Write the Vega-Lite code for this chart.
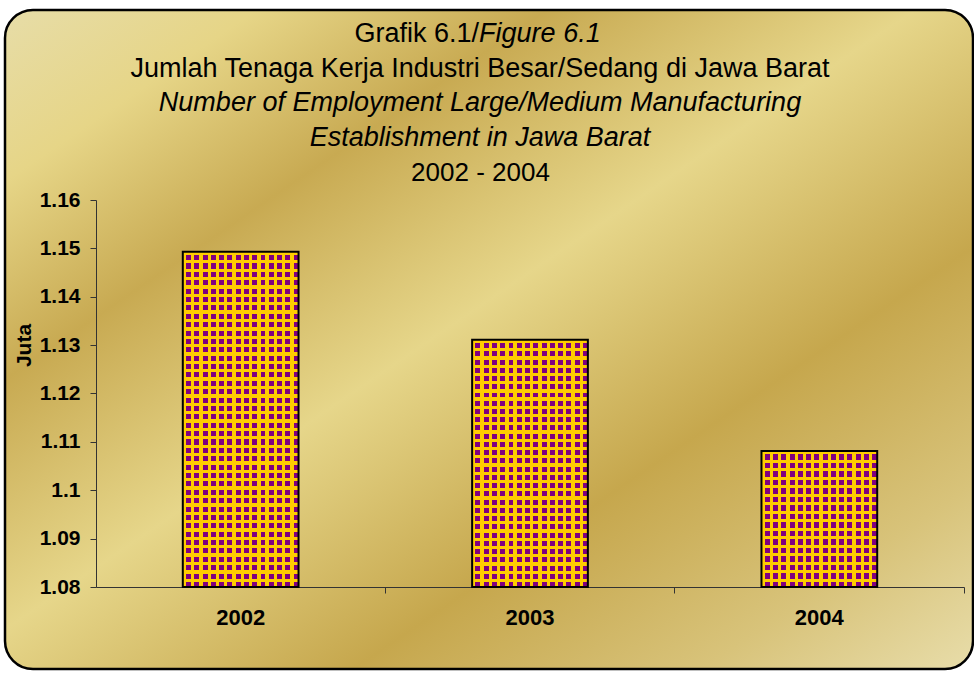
{
  "$schema": "https://vega.github.io/schema/vega-lite/v6.json",
  "width": 968,
  "height": 659,
  "autosize": "none",
  "padding": {"left": 5, "top": 10, "right": 1, "bottom": 4},
  "background": "white",
  "config": {
    "font": "Liberation Sans",
    "view": {
      "stroke": "black",
      "strokeWidth": 2.5,
      "cornerRadius": 28,
      "fill": {
        "gradient": "linear", "x1": 0, "y1": 0, "x2": 1, "y2": 1,
        "stops": [
          {"offset": 0, "color": "#E7DDA8"},
          {"offset": 0.13, "color": "#E6D587"},
          {"offset": 0.28, "color": "#C8AA52"},
          {"offset": 0.47, "color": "#E6D68A"},
          {"offset": 0.68, "color": "#C6A74D"},
          {"offset": 0.86, "color": "#D8C37A"},
          {"offset": 1, "color": "#E8DDAA"}
        ]
      }
    }
  },
  "title": {
    "text": "Jumlah Tenaga Kerja Industri Besar/Sedang di Jawa Barat",
    "subtitle": ["Number of Employment Large/Medium Manufacturing", "Establishment in Jawa Barat"],
    "anchor": "middle",
    "frame": "group",
    "dx": -9,
    "offset": -142,
    "font": "Liberation Sans",
    "fontSize": 27,
    "fontWeight": "normal",
    "color": "black",
    "lineHeight": 34.7,
    "subtitleFont": "Liberation Sans",
    "subtitleFontSize": 27,
    "subtitleFontStyle": "italic",
    "subtitleColor": "black",
    "subtitleLineHeight": 34.7,
    "subtitlePadding": 7.7
  },
  "data": {"values": [
    {"year": "2002", "value": 1.1493},
    {"year": "2003", "value": 1.1311},
    {"year": "2004", "value": 1.1081}
  ]},
  "encoding": {
    "x": {
      "field": "year", "type": "nominal",
      "scale": {"type": "band", "range": [91, 959], "paddingInner": 0.6, "paddingOuter": 0.3},
      "axis": {
        "orient": "bottom", "offset": -82,
        "title": "2002 - 2004", "titleX": 475, "titleY": -407, "titleAlign": "center", "titleBaseline": "alphabetic",
        "titleFontSize": 26, "titleFontWeight": "normal", "titleColor": "black",
        "labelAngle": 0, "labelFontSize": 22, "labelFontWeight": "bold", "labelColor": "black", "labelPadding": 14,
        "bandPosition": 1.75, "tickSize": 6, "tickColor": "#333", "domainColor": "#333", "domainWidth": 1, "grid": false
      }
    },
    "y2": {"datum": 1.08}
  },
  "layer": [
    {
      "mark": {
        "type": "bar",
        "color": {
          "gradient": "linear", "x1": 0, "y1": 0, "x2": 1, "y2": 0,
          "stops": [
            {"offset": 0, "color": "#FFCC00"}, {"offset": 0.0286, "color": "#FFCC00"}, {"offset": 0.0286, "color": "#800080"}, {"offset": 0.0714, "color": "#800080"},
            {"offset": 0.0714, "color": "#FFCC00"}, {"offset": 0.1, "color": "#FFCC00"}, {"offset": 0.1, "color": "#800080"}, {"offset": 0.1429, "color": "#800080"},
            {"offset": 0.1429, "color": "#FFCC00"}, {"offset": 0.1714, "color": "#FFCC00"}, {"offset": 0.1714, "color": "#800080"}, {"offset": 0.2143, "color": "#800080"},
            {"offset": 0.2143, "color": "#FFCC00"}, {"offset": 0.2429, "color": "#FFCC00"}, {"offset": 0.2429, "color": "#800080"}, {"offset": 0.2857, "color": "#800080"},
            {"offset": 0.2857, "color": "#FFCC00"}, {"offset": 0.3143, "color": "#FFCC00"}, {"offset": 0.3143, "color": "#800080"}, {"offset": 0.3571, "color": "#800080"},
            {"offset": 0.3571, "color": "#FFCC00"}, {"offset": 0.3857, "color": "#FFCC00"}, {"offset": 0.3857, "color": "#800080"}, {"offset": 0.4286, "color": "#800080"},
            {"offset": 0.4286, "color": "#FFCC00"}, {"offset": 0.4571, "color": "#FFCC00"}, {"offset": 0.4571, "color": "#800080"}, {"offset": 0.5, "color": "#800080"},
            {"offset": 0.5, "color": "#FFCC00"}, {"offset": 0.5286, "color": "#FFCC00"}, {"offset": 0.5286, "color": "#800080"}, {"offset": 0.5714, "color": "#800080"},
            {"offset": 0.5714, "color": "#FFCC00"}, {"offset": 0.6, "color": "#FFCC00"}, {"offset": 0.6, "color": "#800080"}, {"offset": 0.6429, "color": "#800080"},
            {"offset": 0.6429, "color": "#FFCC00"}, {"offset": 0.6714, "color": "#FFCC00"}, {"offset": 0.6714, "color": "#800080"}, {"offset": 0.7143, "color": "#800080"},
            {"offset": 0.7143, "color": "#FFCC00"}, {"offset": 0.7429, "color": "#FFCC00"}, {"offset": 0.7429, "color": "#800080"}, {"offset": 0.7857, "color": "#800080"},
            {"offset": 0.7857, "color": "#FFCC00"}, {"offset": 0.8143, "color": "#FFCC00"}, {"offset": 0.8143, "color": "#800080"}, {"offset": 0.8571, "color": "#800080"},
            {"offset": 0.8571, "color": "#FFCC00"}, {"offset": 0.8857, "color": "#FFCC00"}, {"offset": 0.8857, "color": "#800080"}, {"offset": 0.9286, "color": "#800080"},
            {"offset": 0.9286, "color": "#FFCC00"}, {"offset": 0.9571, "color": "#FFCC00"}, {"offset": 0.9571, "color": "#800080"}, {"offset": 1, "color": "#800080"}
          ]
        }
      },
      "encoding": {
        "y": {
          "field": "value", "type": "quantitative",
          "scale": {"domain": [1.08, 1.16], "range": [577, 190], "zero": false, "nice": false},
          "axis": {
            "orient": "left", "offset": -91,
            "values": [1.08, 1.09, 1.1, 1.11, 1.12, 1.13, 1.14, 1.15, 1.16], "format": "~g",
            "title": "Juta", "titleX": -72, "titleY": 335, "titleAngle": 270, "titleAlign": "center", "titleBaseline": "middle",
            "titleFontSize": 21, "titleFontWeight": "bold", "titleColor": "black",
            "labelFontSize": 21, "labelFontWeight": "bold", "labelColor": "black", "labelPadding": 10,
            "tickSize": 6, "tickColor": "#333", "domainColor": "#333", "domainWidth": 1, "grid": false
          }
        }
      }
    },
    {
      "mark": {"type": "bar", "stroke": "black", "strokeWidth": 2},
      "encoding": {
        "x": {
          "field": "year", "type": "nominal",
          "scale": {"type": "band", "range": [91, 959], "paddingInner": 0.6, "paddingOuter": 0.3},
          "axis": {
            "orient": "top", "labels": false, "ticks": false, "domain": false, "grid": false,
            "title": "Grafik 6.1/", "titleX": 473.6, "titleY": 31.6, "titleAlign": "right", "titleBaseline": "alphabetic", "titleAngle": 0,
            "titleFontSize": 27, "titleFontStyle": "normal", "titleFontWeight": "normal", "titleColor": "black"
          }
        },
        "y": {
          "field": "value", "type": "quantitative",
          "scale": {"domain": [1.08, 1.16], "range": [577, 190], "zero": false, "nice": false},
          "axis": {
            "orient": "right", "labels": false, "ticks": false, "domain": false, "grid": false,
            "title": "Figure 6.1", "titleAngle": 0, "titleX": -494.4, "titleY": 31.6, "titleAlign": "left", "titleBaseline": "alphabetic",
            "titleFontSize": 27, "titleFontStyle": "italic", "titleFontWeight": "normal", "titleColor": "black"
          }
        },
        "color": {
          "condition": [
            {"test": "datum.year === '2002'", "value": {
              "gradient": "linear", "x1": 0, "y1": 0, "x2": 0, "y2": 1,
              "stops": [
                {"offset": 0, "color": "#FFCC00"}, {"offset": 0.01, "color": "#FFCC00"}, {"offset": 0.01, "color": "rgba(255,204,0,0)"}, {"offset": 0.025, "color": "rgba(255,204,0,0)"},
                {"offset": 0.025, "color": "#FFCC00"}, {"offset": 0.035, "color": "#FFCC00"}, {"offset": 0.035, "color": "rgba(255,204,0,0)"}, {"offset": 0.05, "color": "rgba(255,204,0,0)"},
                {"offset": 0.05, "color": "#FFCC00"}, {"offset": 0.06, "color": "#FFCC00"}, {"offset": 0.06, "color": "rgba(255,204,0,0)"}, {"offset": 0.075, "color": "rgba(255,204,0,0)"},
                {"offset": 0.075, "color": "#FFCC00"}, {"offset": 0.085, "color": "#FFCC00"}, {"offset": 0.085, "color": "rgba(255,204,0,0)"}, {"offset": 0.1, "color": "rgba(255,204,0,0)"},
                {"offset": 0.1, "color": "#FFCC00"}, {"offset": 0.11, "color": "#FFCC00"}, {"offset": 0.11, "color": "rgba(255,204,0,0)"}, {"offset": 0.125, "color": "rgba(255,204,0,0)"},
                {"offset": 0.125, "color": "#FFCC00"}, {"offset": 0.135, "color": "#FFCC00"}, {"offset": 0.135, "color": "rgba(255,204,0,0)"}, {"offset": 0.15, "color": "rgba(255,204,0,0)"},
                {"offset": 0.15, "color": "#FFCC00"}, {"offset": 0.16, "color": "#FFCC00"}, {"offset": 0.16, "color": "rgba(255,204,0,0)"}, {"offset": 0.175, "color": "rgba(255,204,0,0)"},
                {"offset": 0.175, "color": "#FFCC00"}, {"offset": 0.185, "color": "#FFCC00"}, {"offset": 0.185, "color": "rgba(255,204,0,0)"}, {"offset": 0.2, "color": "rgba(255,204,0,0)"},
                {"offset": 0.2, "color": "#FFCC00"}, {"offset": 0.21, "color": "#FFCC00"}, {"offset": 0.21, "color": "rgba(255,204,0,0)"}, {"offset": 0.225, "color": "rgba(255,204,0,0)"},
                {"offset": 0.225, "color": "#FFCC00"}, {"offset": 0.235, "color": "#FFCC00"}, {"offset": 0.235, "color": "rgba(255,204,0,0)"}, {"offset": 0.25, "color": "rgba(255,204,0,0)"},
                {"offset": 0.25, "color": "#FFCC00"}, {"offset": 0.26, "color": "#FFCC00"}, {"offset": 0.26, "color": "rgba(255,204,0,0)"}, {"offset": 0.275, "color": "rgba(255,204,0,0)"},
                {"offset": 0.275, "color": "#FFCC00"}, {"offset": 0.285, "color": "#FFCC00"}, {"offset": 0.285, "color": "rgba(255,204,0,0)"}, {"offset": 0.3, "color": "rgba(255,204,0,0)"},
                {"offset": 0.3, "color": "#FFCC00"}, {"offset": 0.31, "color": "#FFCC00"}, {"offset": 0.31, "color": "rgba(255,204,0,0)"}, {"offset": 0.325, "color": "rgba(255,204,0,0)"},
                {"offset": 0.325, "color": "#FFCC00"}, {"offset": 0.335, "color": "#FFCC00"}, {"offset": 0.335, "color": "rgba(255,204,0,0)"}, {"offset": 0.35, "color": "rgba(255,204,0,0)"},
                {"offset": 0.35, "color": "#FFCC00"}, {"offset": 0.36, "color": "#FFCC00"}, {"offset": 0.36, "color": "rgba(255,204,0,0)"}, {"offset": 0.375, "color": "rgba(255,204,0,0)"},
                {"offset": 0.375, "color": "#FFCC00"}, {"offset": 0.385, "color": "#FFCC00"}, {"offset": 0.385, "color": "rgba(255,204,0,0)"}, {"offset": 0.4, "color": "rgba(255,204,0,0)"},
                {"offset": 0.4, "color": "#FFCC00"}, {"offset": 0.41, "color": "#FFCC00"}, {"offset": 0.41, "color": "rgba(255,204,0,0)"}, {"offset": 0.425, "color": "rgba(255,204,0,0)"},
                {"offset": 0.425, "color": "#FFCC00"}, {"offset": 0.435, "color": "#FFCC00"}, {"offset": 0.435, "color": "rgba(255,204,0,0)"}, {"offset": 0.45, "color": "rgba(255,204,0,0)"},
                {"offset": 0.45, "color": "#FFCC00"}, {"offset": 0.46, "color": "#FFCC00"}, {"offset": 0.46, "color": "rgba(255,204,0,0)"}, {"offset": 0.475, "color": "rgba(255,204,0,0)"},
                {"offset": 0.475, "color": "#FFCC00"}, {"offset": 0.485, "color": "#FFCC00"}, {"offset": 0.485, "color": "rgba(255,204,0,0)"}, {"offset": 0.5, "color": "rgba(255,204,0,0)"},
                {"offset": 0.5, "color": "#FFCC00"}, {"offset": 0.51, "color": "#FFCC00"}, {"offset": 0.51, "color": "rgba(255,204,0,0)"}, {"offset": 0.525, "color": "rgba(255,204,0,0)"},
                {"offset": 0.525, "color": "#FFCC00"}, {"offset": 0.535, "color": "#FFCC00"}, {"offset": 0.535, "color": "rgba(255,204,0,0)"}, {"offset": 0.55, "color": "rgba(255,204,0,0)"},
                {"offset": 0.55, "color": "#FFCC00"}, {"offset": 0.56, "color": "#FFCC00"}, {"offset": 0.56, "color": "rgba(255,204,0,0)"}, {"offset": 0.575, "color": "rgba(255,204,0,0)"},
                {"offset": 0.575, "color": "#FFCC00"}, {"offset": 0.585, "color": "#FFCC00"}, {"offset": 0.585, "color": "rgba(255,204,0,0)"}, {"offset": 0.6, "color": "rgba(255,204,0,0)"},
                {"offset": 0.6, "color": "#FFCC00"}, {"offset": 0.61, "color": "#FFCC00"}, {"offset": 0.61, "color": "rgba(255,204,0,0)"}, {"offset": 0.625, "color": "rgba(255,204,0,0)"},
                {"offset": 0.625, "color": "#FFCC00"}, {"offset": 0.635, "color": "#FFCC00"}, {"offset": 0.635, "color": "rgba(255,204,0,0)"}, {"offset": 0.65, "color": "rgba(255,204,0,0)"},
                {"offset": 0.65, "color": "#FFCC00"}, {"offset": 0.66, "color": "#FFCC00"}, {"offset": 0.66, "color": "rgba(255,204,0,0)"}, {"offset": 0.675, "color": "rgba(255,204,0,0)"},
                {"offset": 0.675, "color": "#FFCC00"}, {"offset": 0.685, "color": "#FFCC00"}, {"offset": 0.685, "color": "rgba(255,204,0,0)"}, {"offset": 0.7, "color": "rgba(255,204,0,0)"},
                {"offset": 0.7, "color": "#FFCC00"}, {"offset": 0.71, "color": "#FFCC00"}, {"offset": 0.71, "color": "rgba(255,204,0,0)"}, {"offset": 0.725, "color": "rgba(255,204,0,0)"},
                {"offset": 0.725, "color": "#FFCC00"}, {"offset": 0.735, "color": "#FFCC00"}, {"offset": 0.735, "color": "rgba(255,204,0,0)"}, {"offset": 0.75, "color": "rgba(255,204,0,0)"},
                {"offset": 0.75, "color": "#FFCC00"}, {"offset": 0.76, "color": "#FFCC00"}, {"offset": 0.76, "color": "rgba(255,204,0,0)"}, {"offset": 0.775, "color": "rgba(255,204,0,0)"},
                {"offset": 0.775, "color": "#FFCC00"}, {"offset": 0.785, "color": "#FFCC00"}, {"offset": 0.785, "color": "rgba(255,204,0,0)"}, {"offset": 0.8, "color": "rgba(255,204,0,0)"},
                {"offset": 0.8, "color": "#FFCC00"}, {"offset": 0.81, "color": "#FFCC00"}, {"offset": 0.81, "color": "rgba(255,204,0,0)"}, {"offset": 0.825, "color": "rgba(255,204,0,0)"},
                {"offset": 0.825, "color": "#FFCC00"}, {"offset": 0.835, "color": "#FFCC00"}, {"offset": 0.835, "color": "rgba(255,204,0,0)"}, {"offset": 0.85, "color": "rgba(255,204,0,0)"},
                {"offset": 0.85, "color": "#FFCC00"}, {"offset": 0.86, "color": "#FFCC00"}, {"offset": 0.86, "color": "rgba(255,204,0,0)"}, {"offset": 0.875, "color": "rgba(255,204,0,0)"},
                {"offset": 0.875, "color": "#FFCC00"}, {"offset": 0.885, "color": "#FFCC00"}, {"offset": 0.885, "color": "rgba(255,204,0,0)"}, {"offset": 0.9, "color": "rgba(255,204,0,0)"},
                {"offset": 0.9, "color": "#FFCC00"}, {"offset": 0.91, "color": "#FFCC00"}, {"offset": 0.91, "color": "rgba(255,204,0,0)"}, {"offset": 0.925, "color": "rgba(255,204,0,0)"},
                {"offset": 0.925, "color": "#FFCC00"}, {"offset": 0.935, "color": "#FFCC00"}, {"offset": 0.935, "color": "rgba(255,204,0,0)"}, {"offset": 0.95, "color": "rgba(255,204,0,0)"},
                {"offset": 0.95, "color": "#FFCC00"}, {"offset": 0.96, "color": "#FFCC00"}, {"offset": 0.96, "color": "rgba(255,204,0,0)"}, {"offset": 0.975, "color": "rgba(255,204,0,0)"},
                {"offset": 0.975, "color": "#FFCC00"}, {"offset": 0.985, "color": "#FFCC00"}, {"offset": 0.985, "color": "rgba(255,204,0,0)"}, {"offset": 1, "color": "rgba(255,204,0,0)"}
              ]
            }},
            {"test": "datum.year === '2003'", "value": {
              "gradient": "linear", "x1": 0, "y1": 0, "x2": 0, "y2": 1,
              "stops": [
                {"offset": 0, "color": "#FFCC00"}, {"offset": 0.01333, "color": "#FFCC00"}, {"offset": 0.01333, "color": "rgba(255,204,0,0)"}, {"offset": 0.03333, "color": "rgba(255,204,0,0)"},
                {"offset": 0.03333, "color": "#FFCC00"}, {"offset": 0.04667, "color": "#FFCC00"}, {"offset": 0.04667, "color": "rgba(255,204,0,0)"}, {"offset": 0.06667, "color": "rgba(255,204,0,0)"},
                {"offset": 0.06667, "color": "#FFCC00"}, {"offset": 0.08, "color": "#FFCC00"}, {"offset": 0.08, "color": "rgba(255,204,0,0)"}, {"offset": 0.1, "color": "rgba(255,204,0,0)"},
                {"offset": 0.1, "color": "#FFCC00"}, {"offset": 0.11333, "color": "#FFCC00"}, {"offset": 0.11333, "color": "rgba(255,204,0,0)"}, {"offset": 0.13333, "color": "rgba(255,204,0,0)"},
                {"offset": 0.13333, "color": "#FFCC00"}, {"offset": 0.14667, "color": "#FFCC00"}, {"offset": 0.14667, "color": "rgba(255,204,0,0)"}, {"offset": 0.16667, "color": "rgba(255,204,0,0)"},
                {"offset": 0.16667, "color": "#FFCC00"}, {"offset": 0.18, "color": "#FFCC00"}, {"offset": 0.18, "color": "rgba(255,204,0,0)"}, {"offset": 0.2, "color": "rgba(255,204,0,0)"},
                {"offset": 0.2, "color": "#FFCC00"}, {"offset": 0.21333, "color": "#FFCC00"}, {"offset": 0.21333, "color": "rgba(255,204,0,0)"}, {"offset": 0.23333, "color": "rgba(255,204,0,0)"},
                {"offset": 0.23333, "color": "#FFCC00"}, {"offset": 0.24667, "color": "#FFCC00"}, {"offset": 0.24667, "color": "rgba(255,204,0,0)"}, {"offset": 0.26667, "color": "rgba(255,204,0,0)"},
                {"offset": 0.26667, "color": "#FFCC00"}, {"offset": 0.28, "color": "#FFCC00"}, {"offset": 0.28, "color": "rgba(255,204,0,0)"}, {"offset": 0.3, "color": "rgba(255,204,0,0)"},
                {"offset": 0.3, "color": "#FFCC00"}, {"offset": 0.31333, "color": "#FFCC00"}, {"offset": 0.31333, "color": "rgba(255,204,0,0)"}, {"offset": 0.33333, "color": "rgba(255,204,0,0)"},
                {"offset": 0.33333, "color": "#FFCC00"}, {"offset": 0.34667, "color": "#FFCC00"}, {"offset": 0.34667, "color": "rgba(255,204,0,0)"}, {"offset": 0.36667, "color": "rgba(255,204,0,0)"},
                {"offset": 0.36667, "color": "#FFCC00"}, {"offset": 0.38, "color": "#FFCC00"}, {"offset": 0.38, "color": "rgba(255,204,0,0)"}, {"offset": 0.4, "color": "rgba(255,204,0,0)"},
                {"offset": 0.4, "color": "#FFCC00"}, {"offset": 0.41333, "color": "#FFCC00"}, {"offset": 0.41333, "color": "rgba(255,204,0,0)"}, {"offset": 0.43333, "color": "rgba(255,204,0,0)"},
                {"offset": 0.43333, "color": "#FFCC00"}, {"offset": 0.44667, "color": "#FFCC00"}, {"offset": 0.44667, "color": "rgba(255,204,0,0)"}, {"offset": 0.46667, "color": "rgba(255,204,0,0)"},
                {"offset": 0.46667, "color": "#FFCC00"}, {"offset": 0.48, "color": "#FFCC00"}, {"offset": 0.48, "color": "rgba(255,204,0,0)"}, {"offset": 0.5, "color": "rgba(255,204,0,0)"},
                {"offset": 0.5, "color": "#FFCC00"}, {"offset": 0.51333, "color": "#FFCC00"}, {"offset": 0.51333, "color": "rgba(255,204,0,0)"}, {"offset": 0.53333, "color": "rgba(255,204,0,0)"},
                {"offset": 0.53333, "color": "#FFCC00"}, {"offset": 0.54667, "color": "#FFCC00"}, {"offset": 0.54667, "color": "rgba(255,204,0,0)"}, {"offset": 0.56667, "color": "rgba(255,204,0,0)"},
                {"offset": 0.56667, "color": "#FFCC00"}, {"offset": 0.58, "color": "#FFCC00"}, {"offset": 0.58, "color": "rgba(255,204,0,0)"}, {"offset": 0.6, "color": "rgba(255,204,0,0)"},
                {"offset": 0.6, "color": "#FFCC00"}, {"offset": 0.61333, "color": "#FFCC00"}, {"offset": 0.61333, "color": "rgba(255,204,0,0)"}, {"offset": 0.63333, "color": "rgba(255,204,0,0)"},
                {"offset": 0.63333, "color": "#FFCC00"}, {"offset": 0.64667, "color": "#FFCC00"}, {"offset": 0.64667, "color": "rgba(255,204,0,0)"}, {"offset": 0.66667, "color": "rgba(255,204,0,0)"},
                {"offset": 0.66667, "color": "#FFCC00"}, {"offset": 0.68, "color": "#FFCC00"}, {"offset": 0.68, "color": "rgba(255,204,0,0)"}, {"offset": 0.7, "color": "rgba(255,204,0,0)"},
                {"offset": 0.7, "color": "#FFCC00"}, {"offset": 0.71333, "color": "#FFCC00"}, {"offset": 0.71333, "color": "rgba(255,204,0,0)"}, {"offset": 0.73333, "color": "rgba(255,204,0,0)"},
                {"offset": 0.73333, "color": "#FFCC00"}, {"offset": 0.74667, "color": "#FFCC00"}, {"offset": 0.74667, "color": "rgba(255,204,0,0)"}, {"offset": 0.76667, "color": "rgba(255,204,0,0)"},
                {"offset": 0.76667, "color": "#FFCC00"}, {"offset": 0.78, "color": "#FFCC00"}, {"offset": 0.78, "color": "rgba(255,204,0,0)"}, {"offset": 0.8, "color": "rgba(255,204,0,0)"},
                {"offset": 0.8, "color": "#FFCC00"}, {"offset": 0.81333, "color": "#FFCC00"}, {"offset": 0.81333, "color": "rgba(255,204,0,0)"}, {"offset": 0.83333, "color": "rgba(255,204,0,0)"},
                {"offset": 0.83333, "color": "#FFCC00"}, {"offset": 0.84667, "color": "#FFCC00"}, {"offset": 0.84667, "color": "rgba(255,204,0,0)"}, {"offset": 0.86667, "color": "rgba(255,204,0,0)"},
                {"offset": 0.86667, "color": "#FFCC00"}, {"offset": 0.88, "color": "#FFCC00"}, {"offset": 0.88, "color": "rgba(255,204,0,0)"}, {"offset": 0.9, "color": "rgba(255,204,0,0)"},
                {"offset": 0.9, "color": "#FFCC00"}, {"offset": 0.91333, "color": "#FFCC00"}, {"offset": 0.91333, "color": "rgba(255,204,0,0)"}, {"offset": 0.93333, "color": "rgba(255,204,0,0)"},
                {"offset": 0.93333, "color": "#FFCC00"}, {"offset": 0.94667, "color": "#FFCC00"}, {"offset": 0.94667, "color": "rgba(255,204,0,0)"}, {"offset": 0.96667, "color": "rgba(255,204,0,0)"},
                {"offset": 0.96667, "color": "#FFCC00"}, {"offset": 0.98, "color": "#FFCC00"}, {"offset": 0.98, "color": "rgba(255,204,0,0)"}, {"offset": 1, "color": "rgba(255,204,0,0)"}
              ]
            }}
          ],
          "value": {
            "gradient": "linear", "x1": 0, "y1": 0, "x2": 0, "y2": 1,
            "stops": [
              {"offset": 0, "color": "#FFCC00"}, {"offset": 0.025, "color": "#FFCC00"}, {"offset": 0.025, "color": "rgba(255,204,0,0)"}, {"offset": 0.0625, "color": "rgba(255,204,0,0)"},
              {"offset": 0.0625, "color": "#FFCC00"}, {"offset": 0.0875, "color": "#FFCC00"}, {"offset": 0.0875, "color": "rgba(255,204,0,0)"}, {"offset": 0.125, "color": "rgba(255,204,0,0)"},
              {"offset": 0.125, "color": "#FFCC00"}, {"offset": 0.15, "color": "#FFCC00"}, {"offset": 0.15, "color": "rgba(255,204,0,0)"}, {"offset": 0.1875, "color": "rgba(255,204,0,0)"},
              {"offset": 0.1875, "color": "#FFCC00"}, {"offset": 0.2125, "color": "#FFCC00"}, {"offset": 0.2125, "color": "rgba(255,204,0,0)"}, {"offset": 0.25, "color": "rgba(255,204,0,0)"},
              {"offset": 0.25, "color": "#FFCC00"}, {"offset": 0.275, "color": "#FFCC00"}, {"offset": 0.275, "color": "rgba(255,204,0,0)"}, {"offset": 0.3125, "color": "rgba(255,204,0,0)"},
              {"offset": 0.3125, "color": "#FFCC00"}, {"offset": 0.3375, "color": "#FFCC00"}, {"offset": 0.3375, "color": "rgba(255,204,0,0)"}, {"offset": 0.375, "color": "rgba(255,204,0,0)"},
              {"offset": 0.375, "color": "#FFCC00"}, {"offset": 0.4, "color": "#FFCC00"}, {"offset": 0.4, "color": "rgba(255,204,0,0)"}, {"offset": 0.4375, "color": "rgba(255,204,0,0)"},
              {"offset": 0.4375, "color": "#FFCC00"}, {"offset": 0.4625, "color": "#FFCC00"}, {"offset": 0.4625, "color": "rgba(255,204,0,0)"}, {"offset": 0.5, "color": "rgba(255,204,0,0)"},
              {"offset": 0.5, "color": "#FFCC00"}, {"offset": 0.525, "color": "#FFCC00"}, {"offset": 0.525, "color": "rgba(255,204,0,0)"}, {"offset": 0.5625, "color": "rgba(255,204,0,0)"},
              {"offset": 0.5625, "color": "#FFCC00"}, {"offset": 0.5875, "color": "#FFCC00"}, {"offset": 0.5875, "color": "rgba(255,204,0,0)"}, {"offset": 0.625, "color": "rgba(255,204,0,0)"},
              {"offset": 0.625, "color": "#FFCC00"}, {"offset": 0.65, "color": "#FFCC00"}, {"offset": 0.65, "color": "rgba(255,204,0,0)"}, {"offset": 0.6875, "color": "rgba(255,204,0,0)"},
              {"offset": 0.6875, "color": "#FFCC00"}, {"offset": 0.7125, "color": "#FFCC00"}, {"offset": 0.7125, "color": "rgba(255,204,0,0)"}, {"offset": 0.75, "color": "rgba(255,204,0,0)"},
              {"offset": 0.75, "color": "#FFCC00"}, {"offset": 0.775, "color": "#FFCC00"}, {"offset": 0.775, "color": "rgba(255,204,0,0)"}, {"offset": 0.8125, "color": "rgba(255,204,0,0)"},
              {"offset": 0.8125, "color": "#FFCC00"}, {"offset": 0.8375, "color": "#FFCC00"}, {"offset": 0.8375, "color": "rgba(255,204,0,0)"}, {"offset": 0.875, "color": "rgba(255,204,0,0)"},
              {"offset": 0.875, "color": "#FFCC00"}, {"offset": 0.9, "color": "#FFCC00"}, {"offset": 0.9, "color": "rgba(255,204,0,0)"}, {"offset": 0.9375, "color": "rgba(255,204,0,0)"},
              {"offset": 0.9375, "color": "#FFCC00"}, {"offset": 0.9625, "color": "#FFCC00"}, {"offset": 0.9625, "color": "rgba(255,204,0,0)"}, {"offset": 1, "color": "rgba(255,204,0,0)"}
            ]
          }
        }
      }
    }
  ],
  "resolve": {"axis": {"x": "independent", "y": "independent"}}
}
